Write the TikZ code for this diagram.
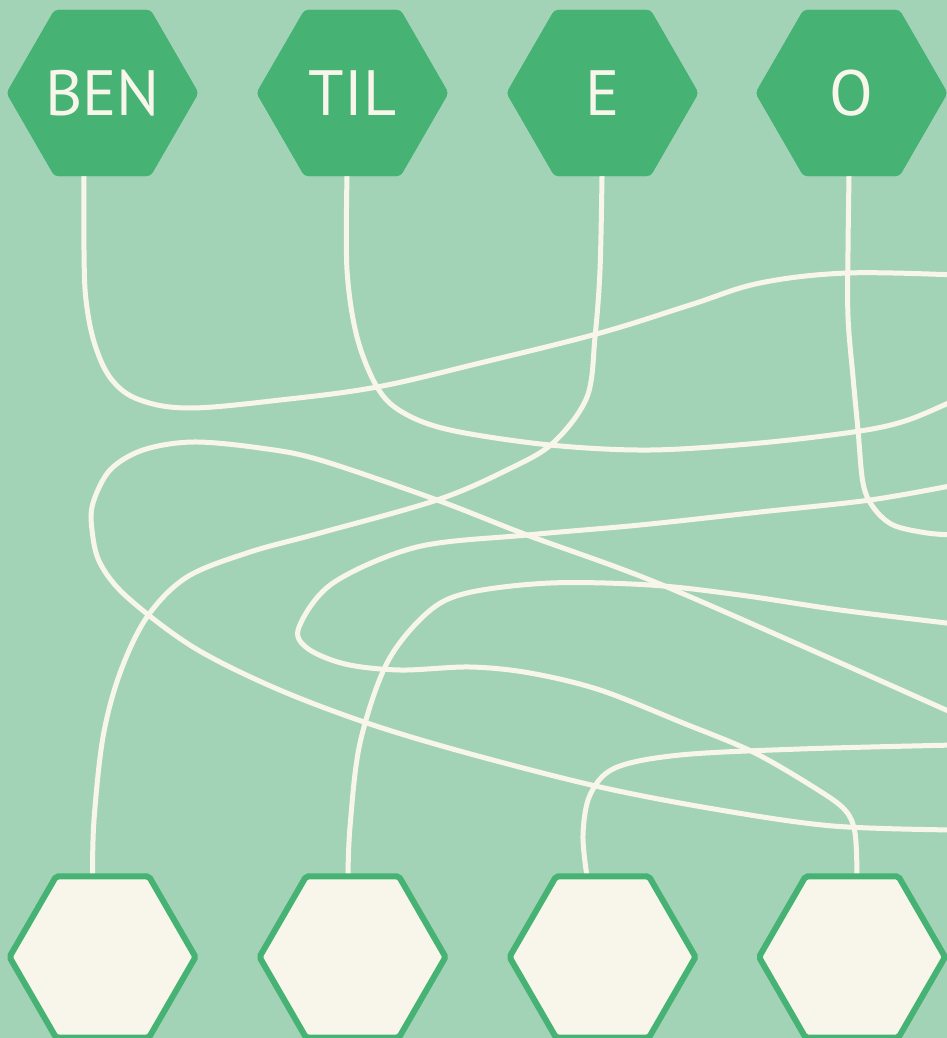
\documentclass[tikz,border=0pt]{standalone}
\usepackage{fontspec}
\setmainfont{PT Sans}
\usetikzlibrary{shapes.geometric,calc}
\definecolor{bgc}{HTML}{A3D3B7}
\definecolor{hexg}{HTML}{46B274}
\definecolor{cream}{HTML}{F8F6EA}
\tikzset{
  tophex/.style={regular polygon, regular polygon sides=6, minimum size=192pt, inner sep=0pt, outer sep=0pt,
    fill=hexg, rounded corners=4pt, text=cream, font=\fontsize{64}{70}\selectfont},
  bothex/.style={regular polygon, regular polygon sides=6, minimum size=186pt, inner sep=0pt, outer sep=0pt,
    fill=cream, draw=hexg, line width=6pt, rounded corners=2pt},
  conn/.style={draw=cream, line width=5pt, line cap=round, line join=round}
}
\begin{document}
\begin{tikzpicture}[x=1pt,y=-1pt]
\fill[bgc] (0,0) rectangle (947,1038);
\useasboundingbox (0,0) rectangle (947,1038);
\path node[tophex] (ben) at (102.5,93) {BEN}
      node[tophex] (til) at (352.5,93) {TIL}
      node[tophex] (e) at (602.5,93) {E}
      node[tophex] (o) at (851.5,93) {O};
% connector end points
\coordinate (a0) at ($(ben.south)+(-18.5,0)$);
\coordinate (b0) at ($(til.south)+(-5.5,0)$);
\coordinate (c0) at ($(e.south)+(-0.5,0)$);
\coordinate (d0) at ($(o.south)+(-2.5,0)$);
\coordinate (rA) at (955,275);
\coordinate (rB) at (955,400);
\coordinate (rD) at (955,535);
\coordinate (rE) at (955,485);
\coordinate (rF1) at (955,714);
\coordinate (rF2) at (955,830);
\coordinate (rG) at (955,624);
\coordinate (rH) at (955,745);
\coordinate (p1) at (92.5,876.5);
\coordinate (p2) at (348,876.5);
\coordinate (p3) at (587,876.5);
\coordinate (p4) at (857,876.5);
% connectors
\draw[conn] plot[smooth, tension=0.6] coordinates {(a0) (84,250) (86,300) (95,345) (112,380) (140,400) (190,408) (280,400) (377,387) (480,363) (600,333) (690,305) (760,283) (847,273) (rA)};
\draw[conn] plot[smooth, tension=0.55] coordinates {(b0) (347,270) (357,337) (377,387) (402,412) (450,430) (550,445) (650,450) (760,443) (860,431) (908,420) (rB)};
\draw[conn] plot[smooth, tension=0.55] coordinates {(c0) (600,270) (595,337) (587,397) (553,443) (507,470) (437,500) (320,533) (250,552) (187,577) (147,617) (120,673) (103,737) (94,820) (p1)};
\draw[conn] plot[smooth, tension=0.55] coordinates {(d0) (848,250) (848,317) (853,377) (858,430) (863,483) (873,507) (893,525) (927,533) (rD)};
\draw[conn] plot[smooth, tension=0.55] coordinates {(p4) (855,833) (845,810) (815,788) (753,752) (683,723) (600,690) (530,673) (470,667) (400,670) (345,664) (307,648) (299,627) (333,583) (417,547) (527,535) (640,525) (760,512) (870,500) (rE)};
\draw[conn] plot[smooth, tension=0.55] coordinates {(rF1) (800,645) (650,580) (527,535) (437,500) (320,460) (260,448) (193,442) (143,450) (110,470) (93,503) (92,530) (100,563) (127,597) (193,647) (275,688) (367,723) (467,753) (600,787) (720,810) (833,826) (rF2)};
\draw[conn] plot[smooth, tension=0.55] coordinates {(p2) (350,827) (360,743) (387,663) (427,613) (467,593) (550,583) (650,585) (740,595) (840,610) (rG)};
\draw[conn] plot[smooth, tension=0.55] coordinates {(p3) (583,835) (590,795) (615,768) (680,755) (800,749) (rH)};
% top hexagons drawn on top
\node[tophex] at (ben) {BEN};
\node[tophex] at (til) {TIL};
\node[tophex] at (e) {E};
\node[tophex] at (o) {O};
% bottom hexagons
\node[bothex] (q1) at (102.5,957) {};
\node[bothex] (q2) at (352.5,957) {};
\node[bothex] (q3) at (602.5,957) {};
\node[bothex] (q4) at (852,957) {};
\end{tikzpicture}
\end{document}
